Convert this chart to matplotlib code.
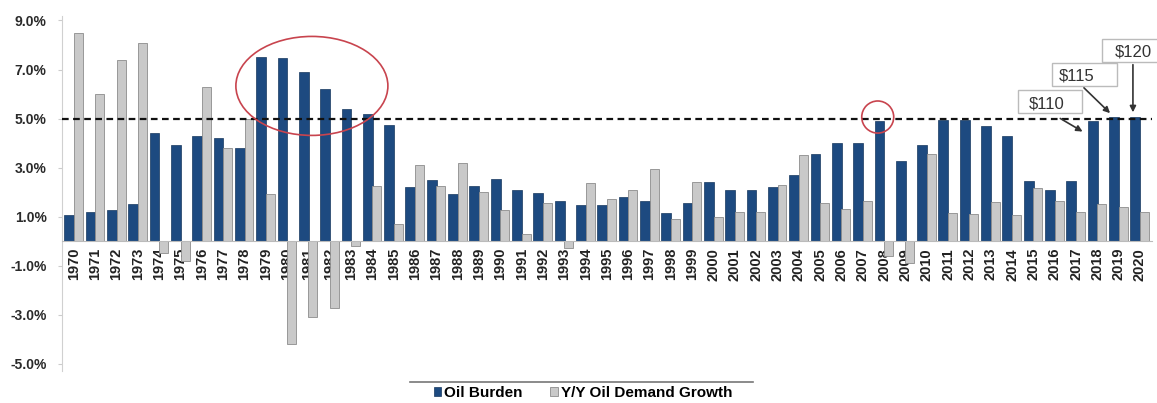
import numpy as np
import matplotlib.pyplot as plt
from matplotlib.patches import Ellipse, Rectangle
from matplotlib.lines import Line2D

plt.rcParams['font.family'] = ['Liberation Sans', 'DejaVu Sans']

years = list(range(1970, 2021))
oil_burden = [1.05, 1.2, 1.25, 1.5, 4.4, 3.9, 4.3, 4.2, 3.8, 7.5,
              7.45, 6.9, 6.2, 5.4, 5.2, 4.75, 2.2, 2.5, 1.9, 2.25,
              2.55, 2.1, 1.95, 1.65, 1.45, 1.45, 1.8, 1.65, 1.15, 1.55,
              2.4, 2.1, 2.1, 2.2, 2.7, 3.55, 4.0, 4.0, 4.9, 3.25,
              3.9, 4.95, 4.95, 4.7, 4.3, 2.45, 2.1, 2.45, 4.9, 5.05,
              5.05]
demand_growth = [8.5, 6.0, 7.4, 8.1, -0.5, -0.8, 6.3, 3.8, 5.0, 1.9,
                 -4.2, -3.1, -2.75, -0.2, 2.25, 0.7, 3.1, 2.25, 3.2, 2.0,
                 1.25, 0.3, 1.55, -0.3, 2.35, 1.7, 2.1, 2.95, 0.9, 2.4,
                 1.0, 1.2, 1.2, 2.3, 3.5, 1.55, 1.3, 1.65, -0.6, -0.9,
                 3.55, 1.15, 1.1, 1.6, 1.05, 2.15, 1.65, 1.2, 1.5, 1.4,
                 1.2]
yticks = [9.0, 7.0, 5.0, 3.0, 1.0, -1.0, -3.0, -5.0]
price_labels = ['$110', '$115', '$120']

blue = '#1d4a80'
grey = '#c9c9c9'

fig = plt.figure(figsize=(11.57, 4.03), dpi=100)
ax = fig.add_axes([0.0536, 0.0797, 0.942, 0.8816])

for s in ['top', 'right']:
    ax.spines[s].set_visible(False)
ax.spines['left'].set_color('#d0d0d0')
ax.spines['bottom'].set_position(('data', 0))
ax.spines['bottom'].set_color('#bbbbbb')
ax.spines['bottom'].set_linewidth(0.8)

x = np.arange(len(years))
ax.bar(x - 0.22, oil_burden, width=0.46, color=blue, edgecolor='#17375e', linewidth=0.5,
       label='Oil Burden', zorder=2)
ax.bar(x + 0.21, demand_growth, width=0.42, color=grey, edgecolor='#8c8c8c', linewidth=0.6,
       label='Y/Y Oil Demand Growth', zorder=2)

ax.axhline(5.0, color='#111111', linestyle=(0, (3, 2)), linewidth=1.6, zorder=3)

ax.set_xlim(-0.56, 50.56)
ax.set_ylim(-5.3, 9.2)
ax.set_yticks(yticks)
ax.set_yticklabels([f'{v:.1f}%' for v in yticks], fontsize=10, fontweight='bold', color='#2a2a2a')
ax.set_xticks(x)
ax.set_xticklabels([str(y) for y in years], rotation=90, fontsize=10.5, fontweight='bold',
                   color='#222222', va='top')
ax.tick_params(axis='x', length=0, pad=5)
ax.tick_params(axis='y', length=3, color='#cccccc', pad=8)

# red highlight ellipses
ax.add_patch(Ellipse((11.16, 6.33), 7.13, 4.04, fill=False, edgecolor='#c8444e',
                     linewidth=1.2, zorder=4))
ax.add_patch(Ellipse((37.7, 5.06), 1.5, 1.31, fill=False, edgecolor='#c8444e',
                     linewidth=1.2, zorder=4))

# price callouts
box_xy = [(44.28, 5.22), (45.87, 6.33), (48.22, 7.31)]
box_w = [3.0, 3.05, 2.75]
text_pos = [(45.64, 5.6), (47.05, 6.74), (49.67, 7.72)]
arrow_start = [(46.15, 5.06), (47.28, 6.33), (49.67, 7.31)]
arrow_end = [(47.42, 4.41), (48.69, 5.14), (49.67, 5.14)]
for lab, bxy, bw, tp, a0, a1 in zip(price_labels, box_xy, box_w, text_pos, arrow_start, arrow_end):
    ax.add_patch(Rectangle(bxy, bw, 0.94, facecolor='white', edgecolor='#bbbbbb',
                           linewidth=1, zorder=5, clip_on=False))
    ax.text(tp[0], tp[1], lab, fontsize=12, color='#333333', ha='center', va='center',
            zorder=6)
    ax.annotate('', xy=a1, xytext=a0,
                arrowprops=dict(arrowstyle='-|>', color='#333333', lw=1.2,
                                mutation_scale=9), zorder=5)

fig.add_artist(Line2D([410 / 1157, 753 / 1157], [1 - 382 / 403, 1 - 382 / 403],
                      color='#777777', linewidth=1.2))
fig.legend(loc='center', bbox_to_anchor=(583 / 1157, 1 - 393 / 403), ncol=2, frameon=False,
           prop={'size': 11, 'weight': 'bold'}, handlelength=0.5, handleheight=0.6,
           handletextpad=0.2, columnspacing=1.8)

fig.savefig('out.png', dpi=100)
